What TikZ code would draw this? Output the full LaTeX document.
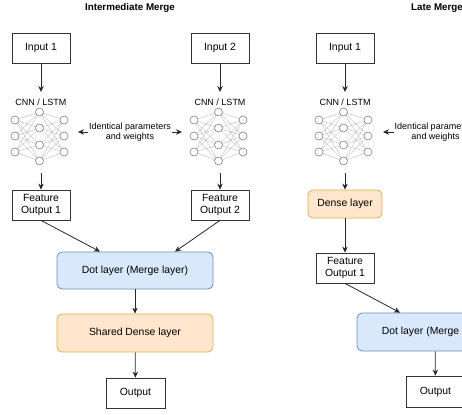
\documentclass[tikz,border=0pt]{standalone}
\usepackage{fontspec}
\setmainfont{Liberation Sans}
\usetikzlibrary{arrows.meta,positioning}
\definecolor{mergefill}{HTML}{DAE8FC}
\definecolor{mergeline}{HTML}{6C8EBF}
\definecolor{densefill}{HTML}{FFE6CC}
\definecolor{denseline}{HTML}{E3B04B}
\tikzset{
  box/.style={draw=black!80, line width=0.8pt, minimum width=58pt, minimum height=30pt,
    align=center, inner sep=1pt, font=\fontsize{10.4}{12}\selectfont},
  merge/.style={box, rounded corners=5pt, draw=mergeline, fill=mergefill, minimum width=156pt, minimum height=37pt},
  dense/.style={box, rounded corners=5pt, draw=denseline, fill=densefill, minimum width=156pt, minimum height=38pt},
  small/.style={align=center, inner sep=1pt, font=\fontsize{9}{10}\selectfont},
  title/.style={font=\fontsize{9.8}{11}\selectfont\bfseries},
  arr/.style={-{Stealth[length=6pt,width=5.5pt]}, draw=black!85, line width=0.8pt},
  netline/.style={draw=black!25, line width=0.4pt},
  neuron/.style={draw=black!50, fill=white, line width=0.6pt}
}
\newcommand{\nnet}[1]{%
  \foreach \a in {120,136,152}{\foreach \b in {112,128,145,161}{
    \draw[netline] (#1-24.5,\a) -- (#1,\b);
    \draw[netline] (#1,\b) -- (#1+24.5,\a);}}
  \foreach \a in {120,136,152}{
    \draw[neuron] (#1-24.5,\a) circle (4pt);
    \draw[neuron] (#1+24.5,\a) circle (4pt);}
  \foreach \b in {112,128,145,161}{\draw[neuron] (#1,\b) circle (4pt);}
}
\begin{document}
\begin{tikzpicture}[x=1pt,y=-1pt]
	\useasboundingbox (0,0) rectangle (462,414);
	%intermediate merge
	\node[title] (t1) at (130,8) {Intermediate Merge};
	\node[box] (in1) at (41,48) {Input 1};
	\node[box] (in2) at (220,48) {Input 2};
	\node[small] (cnn1) at (41,102) {CNN / LSTM};
	\node[small] (cnn2) at (220,102) {CNN / LSTM};
	\nnet{39.5}
	\nnet{218.5}
	\coordinate (a1) at (41,92);
	\coordinate (a2) at (220,92);
	\coordinate (b1) at (41,173);
	\coordinate (b2) at (220,173);
	\node[small] (id1) at (130,132) {Identical parameters\\and weights};
	\coordinate (l1) at (78,132);
	\coordinate (r1) at (182,132);
	\node[box] (fo1) at (41,205) {Feature\\Output 1};
	\node[box] (fo2) at (220,205) {Feature\\Output 2};
	\node[merge] (dot1) at (135,270.5) {Dot layer (Merge layer)};
	\node[dense] (sd) at (135,333) {Shared Dense layer};
	\node[box, minimum width=59pt] (out1) at (135.5,393) {Output};
	\draw[arr] (in1) -- (a1);
	\draw[arr] (in2) -- (a2);
	\draw[arr] (b1) -- (fo1);
	\draw[arr] (b2) -- (fo2);
	\draw[arr] (id1.west) -- (l1);
	\draw[arr] (id1.east) -- (r1);
	\draw[arr] (fo1.south) -- ([xshift=-35pt]dot1.north);
	\draw[arr] (fo2.south) -- ([xshift=40pt]dot1.north);
	\draw[arr] (dot1) -- (sd);
	\draw[arr] (sd) -- (out1);
	%late merge
	\node[title] (t2) at (437,8) {Late Merge};
	\node[box] (in3) at (345,48) {Input 1};
	\node[small] (cnn3) at (345,102) {CNN / LSTM};
	\nnet{343.5}
	\coordinate (a3) at (345,92);
	\coordinate (b3) at (345,173);
	\node[small] (id2) at (435.5,132) {Identical parameters\\and weights};
	\coordinate (l3) at (383,132);
	\node[dense, minimum width=74pt, minimum height=28pt] (dl) at (345,204) {Dense layer};
	\node[box] (fo3) at (345,268) {Feature\\Output 1};
	\node[merge, minimum height=38pt] (dot2) at (435,332) {Dot layer (Merge layer)};
	\node[box, minimum width=59pt, minimum height=31pt] (out2) at (435.5,391.5) {Output};
	\draw[arr] (in3) -- (a3);
	\draw[arr] (b3) -- (dl);
	\draw[arr] (id2.west) -- (l3);
	\draw[arr] (dl) -- (fo3);
	\draw[arr] (fo3.south) -- ([xshift=-35pt]dot2.north);
	\draw[arr] (dot2) -- (out2);
\end{tikzpicture}
\end{document}
